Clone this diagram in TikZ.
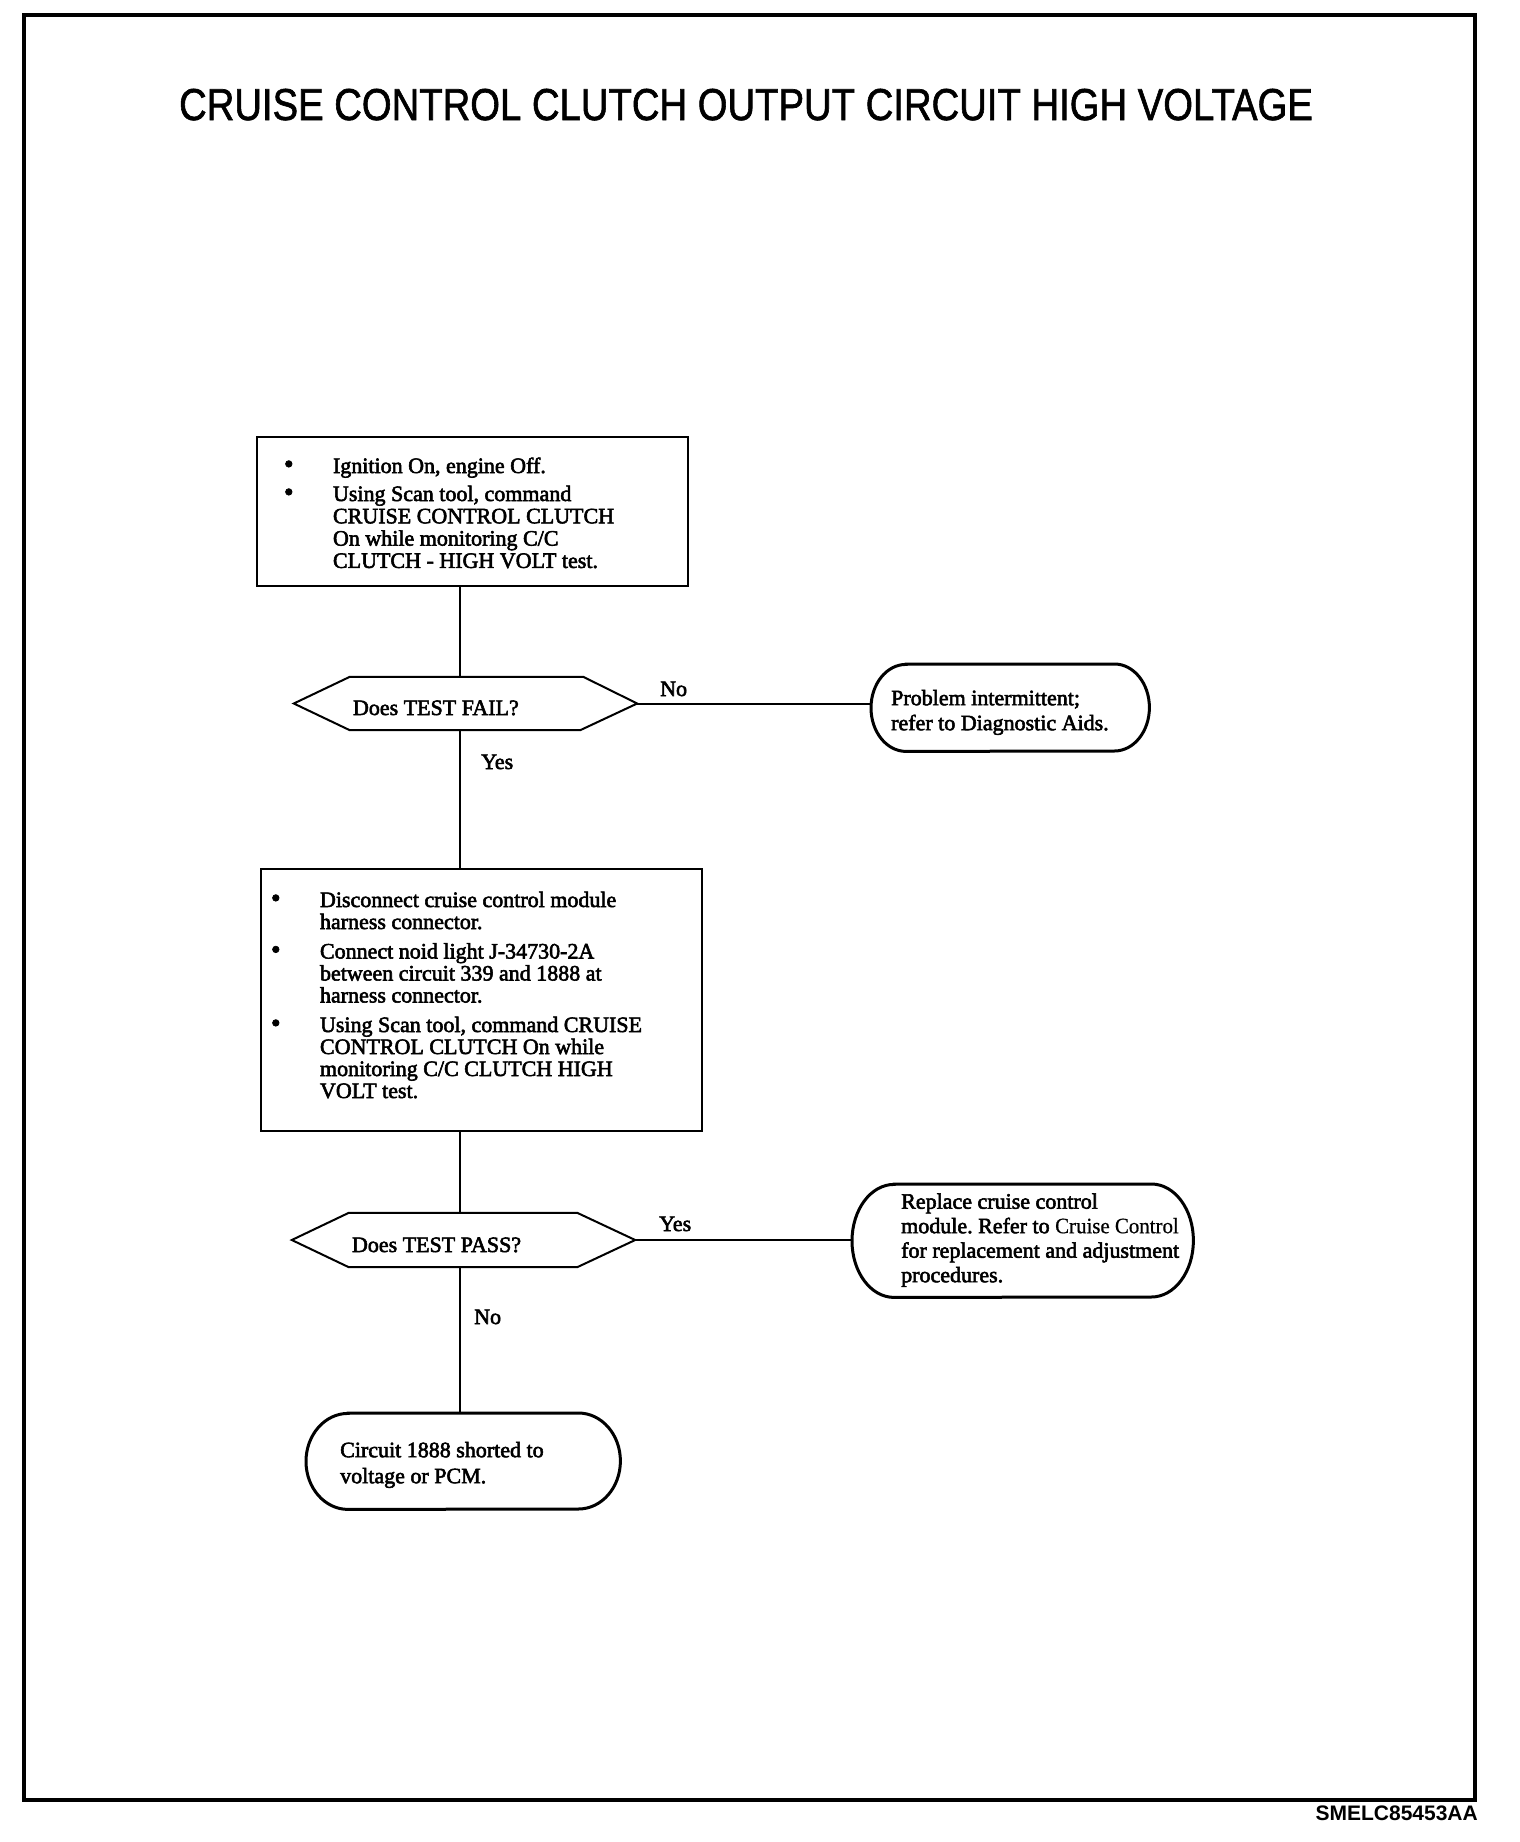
\documentclass[tikz,border=0pt]{standalone}
\usepackage{fontspec}
\usepackage{graphicx}
\setmainfont{Liberation Serif}[FakeBold=2.5]
\newfontfamily\plainserif{Liberation Serif}[FakeBold=0.6]
\newfontfamily\titlefont{Liberation Sans}[FakeBold=1.5]
\newfontfamily\footfont{Liberation Sans}
\frenchspacing
\newcommand\bigbul{\scalebox{1.25}{\textbullet}}
\newcommand\drawterm[3]{% node, end half-width, half-height
  \draw[line width=3pt] ([xshift=#2]#1.north west) -- ([xshift=-#2]#1.north east)
    arc[start angle=90, end angle=-90, x radius=#2, y radius=#3]
    -- ([xshift=#2]#1.south west)
    arc[start angle=270, end angle=90, x radius=#2, y radius=#3] -- cycle;}
\begin{document}
\begin{tikzpicture}[x=1pt,y=-1pt,
  ln/.style={line width=2pt},
  procbox/.style={draw, line width=2pt, rectangle, inner sep=0pt, anchor=north west},
  termbox/.style={rectangle, inner sep=0pt, anchor=north west},
  decbox/.style={rectangle, inner sep=0pt},
  lbl/.style={inner sep=0pt, anchor=base west},
  every node/.append style={font=\fontsize{22}{22}\selectfont\frenchspacing}
]
\fill[white] (0,0) rectangle (1520,1842);
\useasboundingbox (0,0) rectangle (1520,1842);
% outer frame
\draw[line width=4pt] (24,15) rectangle (1475,1800);

% title and code
\node[anchor=base, inner sep=0pt, font=\titlefont\fontsize{44.7}{50}\selectfont] (title) at (746,120)
  {\scalebox{0.856}[1]{CRUISE CONTROL CLUTCH OUTPUT CIRCUIT HIGH VOLTAGE}};
\node[anchor=base east, inner sep=0pt, font=\footfont\bfseries\fontsize{21}{24}\selectfont] (code) at (1478,1820) {SMELC85453AA};

% step 1
\node[procbox, minimum width=431pt, minimum height=149pt, text height=36pt, text depth=113pt] (b1) at (256,436)
 {\makebox[431pt][l]{\fontsize{22}{22.3}\selectfont\begin{tabular}[t]{@{}p{76pt}@{}l@{}}
 \hspace*{27pt}\bigbul & Ignition On, engine Off.\\[5.7pt]
 \hspace*{27pt}\bigbul & Using Scan tool, command\\
  & CRUISE CONTROL CLUTCH\\
  & On while monitoring C/C\\
  & CLUTCH - HIGH VOLT test.
 \end{tabular}}};

% decision 1
\node[decbox, minimum width=343pt, minimum height=53pt, text height=23pt, text depth=0pt] (d1) at (465.5,703.5)
 {\makebox[343pt][l]{\hspace*{59pt}Does TEST FAIL?}};
\draw[ln] (d1.west) -- ([xshift=56pt]d1.north west) -- ([xshift=-54pt]d1.north east) -- (d1.east)
  -- ([xshift=-57pt]d1.south east) -- ([xshift=56pt]d1.south west) -- cycle;

% result 1
\node[termbox, minimum width=278pt, minimum height=87pt, text height=41pt, text depth=46pt] (r1) at (871,664)
 {\makebox[278pt][l]{\hspace*{20pt}\fontsize{22}{25}\selectfont\begin{tabular}[t]{@{}l@{}}
 Problem intermittent;\\
 refer to Diagnostic Aids.
 \end{tabular}}};
\drawterm{r1}{35pt}{43.5pt}

% step 2
\node[procbox, minimum width=441pt, minimum height=262pt, text height=38pt, text depth=224pt] (b2) at (260,868)
 {\makebox[441pt][l]{\fontsize{22}{22}\selectfont\begin{tabular}[t]{@{}p{59pt}@{}l@{}}
 \hspace*{10pt}\bigbul & Disconnect cruise control module\\
  & harness connector.\\[7.5pt]
 \hspace*{10pt}\bigbul & Connect noid light J-34730-2A\\
  & between circuit 339 and 1888 at\\
  & harness connector.\\[7.5pt]
 \hspace*{10pt}\bigbul & Using Scan tool, command CRUISE\\
  & CONTROL CLUTCH On while\\
  & monitoring C/C CLUTCH HIGH\\
  & VOLT test.
 \end{tabular}}};

% decision 2
\node[decbox, minimum width=343pt, minimum height=54pt, text height=24pt, text depth=0pt] (d2) at (463.5,1240)
 {\makebox[343pt][l]{\hspace*{60pt}Does TEST PASS?}};
\draw[ln] (d2.west) -- ([xshift=57pt]d2.north west) -- ([xshift=-58pt]d2.north east) -- (d2.east)
  -- ([xshift=-58pt]d2.south east) -- ([xshift=57pt]d2.south west) -- cycle;

% result 2
\node[termbox, minimum width=341pt, minimum height=113pt, text height=24.5pt, text depth=88.5pt] (r2) at (852,1184)
 {\makebox[341pt][l]{\hspace*{49pt}\fontsize{22}{24.5}\selectfont\begin{tabular}[t]{@{}l@{}}
 Replace cruise control\\
 module. Refer to \scalebox{0.95}[1]{\plainserif Cruise Control}\\
 for replacement and adjustment\\
 procedures.
 \end{tabular}}};
\drawterm{r2}{42pt}{56.5pt}

% result 3
\node[termbox, minimum width=314pt, minimum height=96pt, text height=44pt, text depth=52pt] (r3) at (306,1413)
 {\makebox[314pt][l]{\hspace*{34pt}\fontsize{22}{26}\selectfont\begin{tabular}[t]{@{}l@{}}
 Circuit 1888 shorted to\\
 voltage or PCM.
 \end{tabular}}};
\drawterm{r3}{42pt}{48pt}

% connectors
\coordinate (cx) at (460,0);
\draw[ln] (b1.south -| cx) -- (d1.north -| cx);
\draw[ln] (d1.south -| cx) -- (b2.north -| cx);
\draw[ln] (b2.south -| cx) -- (d2.north -| cx);
\draw[ln] (d2.south -| cx) -- (r3.north -| cx);
\draw[ln] (d1.east) -- (d1.east -| r1.west);
\draw[ln] (d2.east) -- (d2.east -| r2.west);

% labels
\node[lbl] (no1) at (660,696) {No};
\node[lbl] (yes1) at (481,769) {Yes};
\node[lbl] (yes2) at (659,1231) {Yes};
\node[lbl] (no2) at (474,1324) {No};
\end{tikzpicture}
\end{document}
